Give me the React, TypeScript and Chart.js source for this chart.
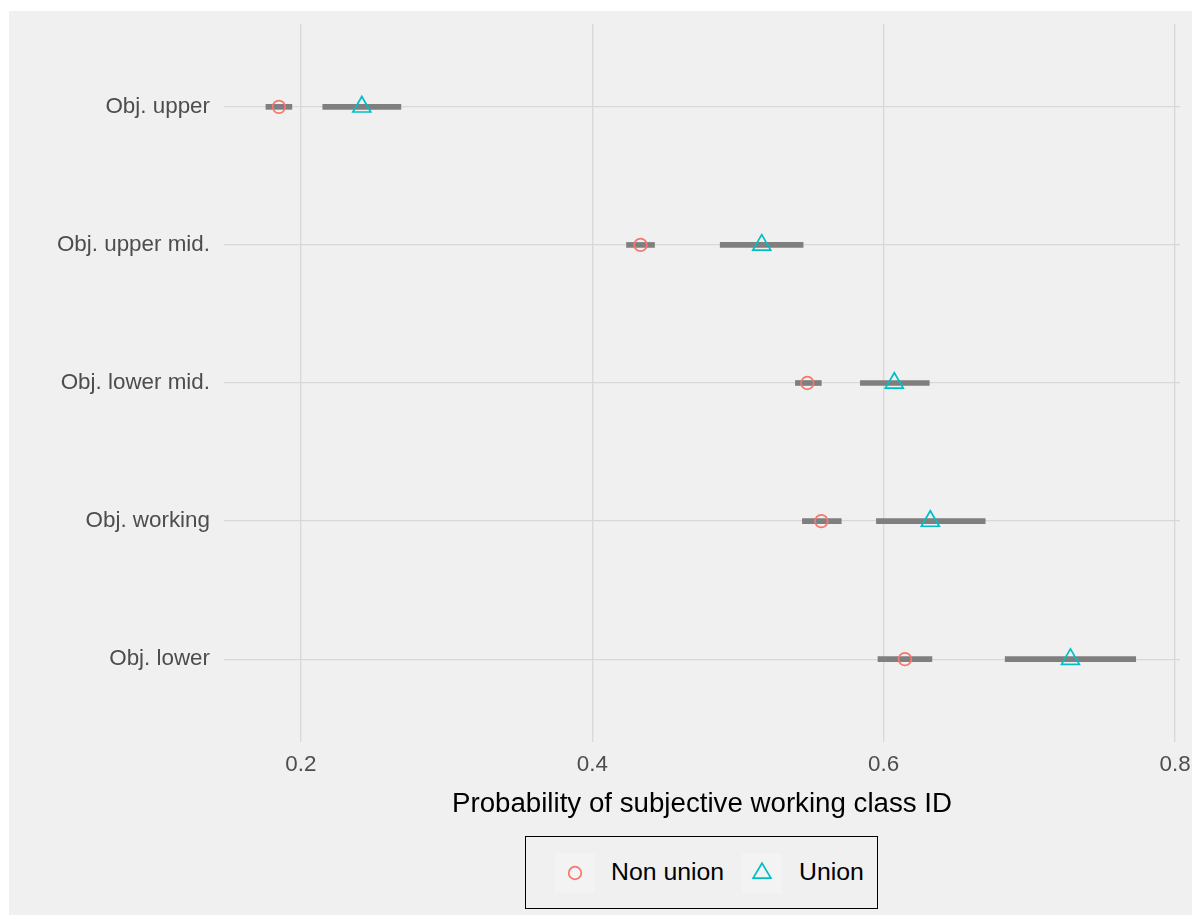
import React, { useEffect, useRef } from "react";
import { Chart, registerables } from "chart.js";

Chart.register(...registerables);

// Categories from bottom (y = 1) to top (y = 5)
const categories = ["Obj. lower", "Obj. working", "Obj. lower mid.", "Obj. upper mid.", "Obj. upper"];

const nonUnionEst = [0.6146, 0.5572, 0.5476, 0.4331, 0.1849];
const nonUnionLo = [0.5961, 0.5442, 0.5394, 0.4235, 0.176];
const nonUnionHi = [0.6331, 0.5709, 0.5572, 0.4427, 0.1938];

const unionEst = [0.7282, 0.632, 0.6073, 0.5163, 0.2418];
const unionLo = [0.6834, 0.595, 0.584, 0.4878, 0.215];
const unionHi = [0.773, 0.6697, 0.6313, 0.5447, 0.2686];

const xTicks = [0.2, 0.4, 0.6, 0.8];
const xMin = 0.1472;
const xMax = 0.8034;
const yTicks = [1, 2, 3, 4, 5];

const FONT = "'Liberation Sans', Arial, Helvetica, sans-serif";
const RED = "#F8766D";
const CYAN = "#00BFC4";

export default function App() {
  const ref = useRef<HTMLCanvasElement | null>(null);

  useEffect(() => {
    const canvas = ref.current;
    if (!canvas) return;
    const errorBars = [
      ...nonUnionLo.map((lo, i) => ({ x: [lo, nonUnionHi[i]], y: i + 1 })),
      ...unionLo.map((lo, i) => ({ x: [lo, unionHi[i]], y: i + 1 })),
    ];
    const chart = new Chart(canvas, {
      type: "scatter",
      data: {
        datasets: [
          {
            type: "scatter",
            label: "Non union",
            data: nonUnionEst.map((v, i) => ({ x: v, y: i + 1 })),
            pointStyle: "circle",
            pointRadius: 6.3,
            borderColor: RED,
            pointBorderColor: RED,
            backgroundColor: "rgba(0,0,0,0)",
            pointBackgroundColor: "rgba(0,0,0,0)",
            borderWidth: 1.7,
            pointBorderWidth: 1.7,
            order: 1,
          } as any,
          {
            type: "scatter",
            label: "Union",
            data: unionEst.map((v, i) => ({ x: v, y: i + 1 })),
            pointStyle: "triangle",
            pointRadius: 10.3,
            borderColor: CYAN,
            pointBorderColor: CYAN,
            backgroundColor: "rgba(0,0,0,0)",
            pointBackgroundColor: "rgba(0,0,0,0)",
            borderWidth: 1.7,
            pointBorderWidth: 1.7,
            order: 1,
          } as any,
          {
            type: "bar",
            label: "CI",
            indexAxis: "y",
            data: errorBars,
            backgroundColor: "#7F7F7F",
            borderWidth: 0,
            barThickness: 5,
            order: 2,
          } as any,
        ],
      },
      options: {
        animation: false,
        responsive: false,
        maintainAspectRatio: false,
        layout: { padding: { top: 13, right: 11, bottom: 73, left: 0 } },
        plugins: { legend: { display: false }, tooltip: { enabled: false } },
        scales: {
          x: {
            type: "linear",
            min: xMin,
            max: xMax,
            offset: false,
            afterBuildTicks: (s: any) => {
              s.ticks = xTicks.map((v) => ({ value: v }));
            },
            afterFit: (s: any) => {
              s.height = 100;
              s.paddingLeft = 0;
              s.paddingRight = 0;
            },
            grid: { color: "#D8D8D8", lineWidth: 1.3, drawTicks: false, offset: false },
            border: { display: false },
            ticks: {
              padding: 9,
              color: "#4D4D4D",
              font: { family: FONT, size: 22.4 },
              callback: (v: any) => Number(v).toFixed(1),
            },
            title: {
              display: true,
              text: "Probability of subjective working class ID",
              color: "#000000",
              font: { family: FONT, size: 27.7 },
              padding: { top: 0, bottom: 21 },
            },
          },
          y: {
            type: "linear",
            min: 0.4,
            max: 5.6,
            offset: false,
            afterBuildTicks: (s: any) => {
              s.ticks = yTicks.map((v) => ({ value: v }));
            },
            afterFit: (s: any) => {
              s.width = 215;
              s.paddingTop = 0;
              s.paddingBottom = 0;
            },
            grid: { color: "#D8D8D8", lineWidth: 1.3, drawTicks: false, offset: false },
            border: { display: false },
            ticks: {
              padding: 14,
              color: "#4D4D4D",
              font: { family: FONT, size: 22.4 },
              callback: (v: any) => categories[Math.round(Number(v)) - 1],
            },
          },
        },
      } as any,
    });
    return () => chart.destroy();
  }, []);

  const keyBox: React.CSSProperties = {
    position: "absolute",
    top: 16,
    width: 40,
    height: 40,
    background: "#F3F3F3",
  };
  const label: React.CSSProperties = {
    position: "absolute",
    top: 15,
    height: 40,
    lineHeight: "40px",
    fontFamily: FONT,
    fontSize: 24.8,
    color: "#000000",
    whiteSpace: "nowrap",
  };

  return (
    <div
      style={{
        position: "absolute",
        left: 9,
        top: 11,
        width: 1183,
        height: 904,
        background: "#F0F0F0",
        overflow: "hidden",
      }}
    >
      <canvas ref={ref} width={1183} height={904} style={{ display: "block", width: 1183, height: 904 }} />
      <div
        style={{
          position: "absolute",
          left: 516,
          top: 825,
          width: 353,
          height: 73,
          boxSizing: "border-box",
          border: "1px solid #000000",
          background: "#F0F0F0",
        }}
      >
        <div style={{ ...keyBox, left: 29 }}>
          <svg width={40} height={40}>
            <circle cx={20} cy={20} r={6.3} fill="none" stroke={RED} strokeWidth={1.7} />
          </svg>
        </div>
        <div style={{ ...label, left: 85 }}>Non union</div>
        <div style={{ ...keyBox, left: 216 }}>
          <svg width={40} height={40}>
            <polygon
              points="20,10.2 28.9,25.1 11.1,25.1"
              fill="none"
              stroke={CYAN}
              strokeWidth={1.7}
            />
          </svg>
        </div>
        <div style={{ ...label, left: 273 }}>Union</div>
      </div>
    </div>
  );
}
